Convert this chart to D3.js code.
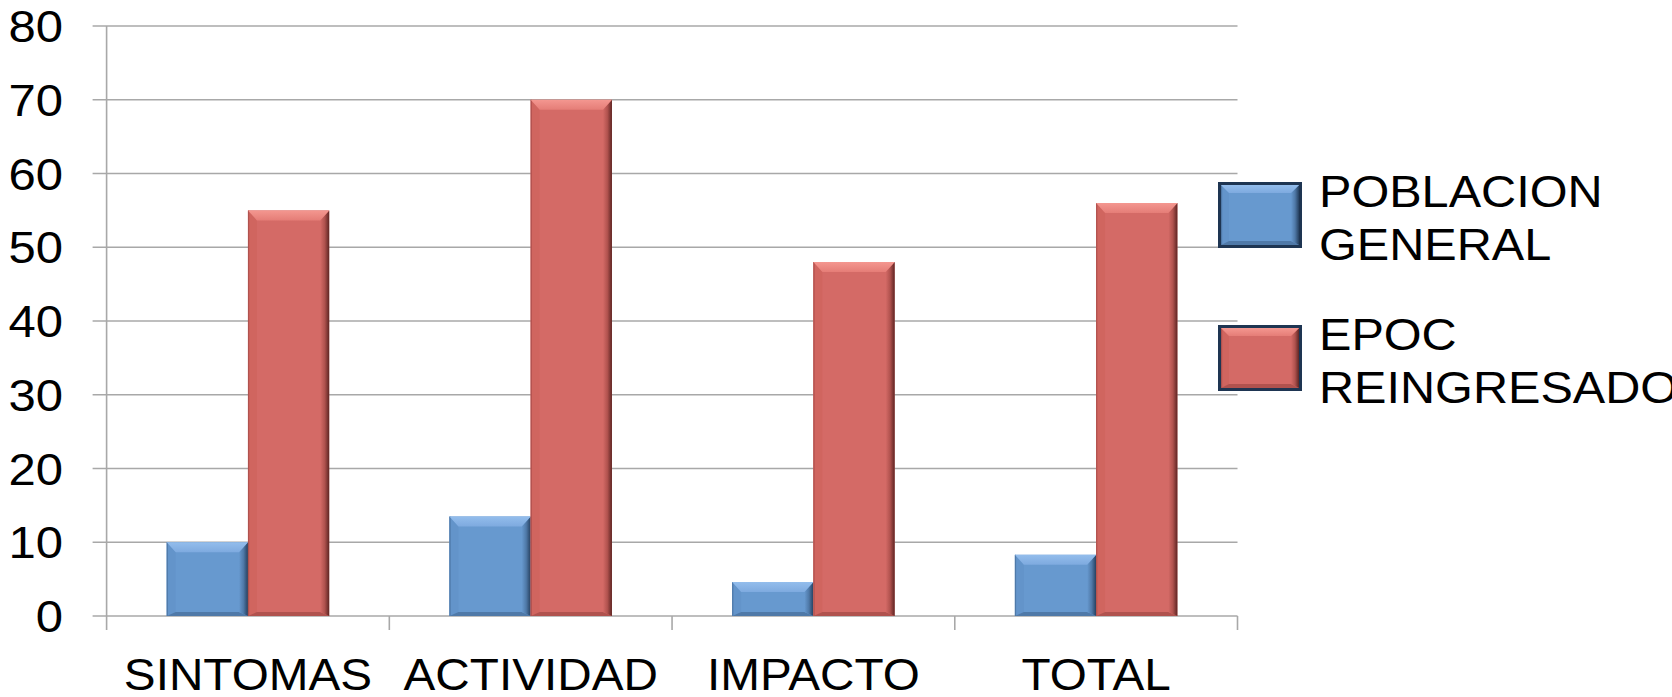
<!DOCTYPE html>
<html>
<head>
<meta charset="utf-8">
<script src="https://cdn.jsdelivr.net/npm/d3@7"></script>
<style>
  html, body { margin: 0; padding: 0; background: #ffffff; }
  svg { display: block; }
  text { font-family: "Liberation Sans", Arial, sans-serif; fill: #000; }
</style>
</head>
<body>
<svg id="chart" width="1672" height="697"></svg>
<script>
// ---- data ----
const categories = ["SINTOMAS", "ACTIVIDAD", "IMPACTO", "TOTAL"];
const seriesNames = ["POBLACION GENERAL", "EPOC REINGRESADOS"];
const legendLines = [["POBLACION", "GENERAL"], ["EPOC", "REINGRESADOS"]];
const poblacionGeneral = [10, 13.5, 4.6, 8.3];
const epocReingresados = [55, 70, 48, 56];
const yTicks = [0, 10, 20, 30, 40, 50, 60, 70, 80];

const seriesValues = [poblacionGeneral, epocReingresados];
const palette = [
  { id: "b", main: "#6799cf", light: "#93bdec", light2: "#7eaadf", dark: "#26405f", side: "#6394ca", bottom: "#4f79a8" },
  { id: "r", main: "#d46a66", light: "#f49790", light2: "#e57d77", dark: "#5e2523", side: "#d0655f", bottom: "#b0524e" }
];

const svg = d3.select("#chart");
const defs = svg.append("defs");
palette.forEach(c => {
  const g = defs.append("linearGradient").attr("id", "rg-" + c.id)
    .attr("x1", "0").attr("x2", "1").attr("y1", "0").attr("y2", "0");
  g.append("stop").attr("offset", "0").attr("stop-color", c.main);
  g.append("stop").attr("offset", "0.5").attr("stop-color", c.bottom);
  g.append("stop").attr("offset", "1").attr("stop-color", c.dark);
  const t = defs.append("linearGradient").attr("id", "tg-" + c.id)
    .attr("x1", "0").attr("x2", "0").attr("y1", "0").attr("y2", "1");
  t.append("stop").attr("offset", "0").attr("stop-color", c.light);
  t.append("stop").attr("offset", "1").attr("stop-color", c.light2);
});

const plotLeft = 106.6, plotRight = 1237.5, plotTop = 26, plotBottom = 616;
const gridColor = "#a8a8a8";
const fontSize = 45, sx = 1.08;

const x0 = d3.scaleBand().domain(categories).range([plotLeft, plotRight]).paddingInner(0).paddingOuter(0);
const x1 = d3.scaleBand().domain(seriesNames).range([0, x0.bandwidth()]).paddingInner(0).paddingOuter(0.74);
const y = d3.scaleLinear().domain([0, 80]).range([plotBottom, plotTop]);

// gridlines + left ticks
svg.append("g").selectAll("line").data(yTicks).join("line")
  .attr("x1", plotLeft - 14).attr("x2", plotRight)
  .attr("y1", d => y(d)).attr("y2", d => y(d))
  .attr("stroke", gridColor).attr("stroke-width", 1.6);

// y axis line
svg.append("line").attr("x1", plotLeft).attr("x2", plotLeft)
  .attr("y1", plotTop).attr("y2", plotBottom + 14)
  .attr("stroke", gridColor).attr("stroke-width", 1.6);

// x category boundary ticks
const bounds = categories.map(c => x0(c)).concat([plotRight]);
svg.append("g").selectAll("line").data(bounds.slice(1)).join("line")
  .attr("x1", d => d).attr("x2", d => d)
  .attr("y1", plotBottom).attr("y2", plotBottom + 14)
  .attr("stroke", gridColor).attr("stroke-width", 1.6);

// y labels
svg.append("g").selectAll("text").data(yTicks).join("text")
  .attr("transform", d => `translate(63,${y(d) + 16}) scale(1.09,1)`)
  .attr("text-anchor", "end")
  .attr("font-size", fontSize)
  .text(d => d);

// x labels
svg.append("g").selectAll("text").data(categories).join("text")
  .attr("transform", d => `translate(${x0(d) + x0.bandwidth() / 2},690) scale(1.06,1)`)
  .attr("text-anchor", "middle")
  .attr("font-size", fontSize)
  .text(d => d);

// bevelled bar drawer
function bevelBar(g, x, yTop, w, h, c, bt, side) {
  const b = Math.min(bt, h / 2);
  const sr = side, sl = side, sb = Math.min(4, h / 4);
  g.append("rect").attr("x", x).attr("y", yTop).attr("width", w).attr("height", h).attr("fill", c.main);
  // left face
  g.append("polygon").attr("points",
    [[x, yTop], [x + sl, yTop + b], [x + sl, yTop + h - sb], [x, yTop + h]].join(" "))
    .attr("fill", c.side);
  g.append("line").attr("x1", x + 0.6).attr("x2", x + 0.6).attr("y1", yTop).attr("y2", yTop + h)
    .attr("stroke", c.bottom).attr("stroke-width", 1.2);
  // bottom face
  g.append("polygon").attr("points",
    [[x, yTop + h], [x + sl, yTop + h - sb], [x + w - sr, yTop + h - sb], [x + w, yTop + h]].join(" "))
    .attr("fill", c.bottom);
  // right face
  g.append("polygon").attr("points",
    [[x + w, yTop], [x + w, yTop + h], [x + w - sr, yTop + h - sb], [x + w - sr, yTop + b]].join(" "))
    .attr("fill", `url(#rg-${c.id})`);
  // top face
  g.append("polygon").attr("points",
    [[x, yTop], [x + w, yTop], [x + w - sr, yTop + b], [x + sl, yTop + b]].join(" "))
    .attr("fill", `url(#tg-${c.id})`);
}

// bars
const barsG = svg.append("g");
categories.forEach((cat, i) => {
  seriesNames.forEach((s, j) => {
    const v = seriesValues[j][i];
    const bx = x0(cat) + x1(s);
    const by = y(v);
    bevelBar(barsG, bx, by, x1.bandwidth(), y(0) - by, palette[j], 10, 9);
  });
});

// legend
const legendBoxes = [182, 325];
const lg = svg.append("g");
seriesNames.forEach((s, j) => {
  const bx = 1218, by = legendBoxes[j], bw = 84, bh = 66;
  const c = palette[j];
  lg.append("rect").attr("x", bx).attr("y", by).attr("width", bw).attr("height", bh)
    .attr("fill", "#1e3552");
  bevelBar(lg, bx + 3, by + 3, bw - 6, bh - 6, c, 8, 8);
  legendLines[j].forEach((t, k) => {
    lg.append("text")
      .attr("transform", `translate(1319,${by + 25 + k * 53}) scale(${sx},1)`)
      .attr("font-size", fontSize)
      .text(t);
  });
});
</script>
</body>
</html>
